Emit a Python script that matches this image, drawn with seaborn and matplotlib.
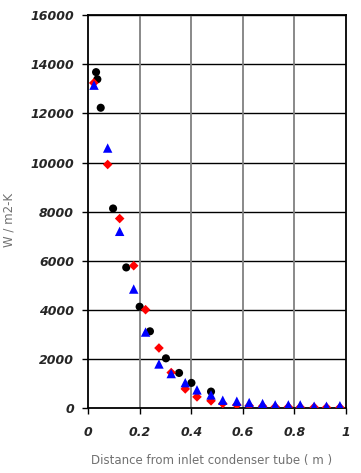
import numpy as np
import pandas as pd
import seaborn as sns
import matplotlib
matplotlib.use("Agg")
import matplotlib.pyplot as plt

# series
x_black = [0.031, 0.036, 0.049, 0.097, 0.148, 0.200, 0.240, 0.302, 0.353, 0.401, 0.477]
y_black = [13680, 13390, 12230, 8130, 5730, 4130, 3130, 2030, 1435, 1030, 676]

x_red = [0.022, 0.076, 0.1225, 0.177, 0.223, 0.275, 0.3225, 0.377, 0.4225, 0.477, 0.5225,
         0.577, 0.625, 0.677, 0.726, 0.777, 0.823, 0.877, 0.925, 0.977]
y_red = [13240, 9920, 7720, 5800, 4010, 2450, 1450, 785, 460, 300, 190,
         135, 100, 80, 55, 50, 40, 40, 30, 30]

x_blue = [0.023, 0.076, 0.1225, 0.177, 0.223, 0.275, 0.3225, 0.377, 0.4225, 0.477, 0.5225,
          0.577, 0.625, 0.677, 0.726, 0.777, 0.823, 0.877, 0.925, 0.977]
y_blue = [13150, 10590, 7200, 4850, 3100, 1800, 1410, 1040, 745, 540, 325,
          285, 230, 190, 135, 135, 135, 80, 80, 100]

x_ticks = [0, 0.2, 0.4, 0.6, 0.8, 1]
x_ticklabels = ["0", "0.2", "0.4", "0.6", "0.8", "1"]
y_ticks = [0, 2000, 4000, 6000, 8000, 10000, 12000, 14000, 16000]

df = pd.concat([
    pd.DataFrame({"x": x_black, "y": y_black, "s": "a"}),
    pd.DataFrame({"x": x_red, "y": y_red, "s": "b"}),
    pd.DataFrame({"x": x_blue, "y": y_blue, "s": "c"}),
])

sns.set_style("white")
plt.rcParams['font.family'] = ['DejaVu Sans']

fig = plt.figure(figsize=(3.61, 4.73), dpi=100)
ax = fig.add_axes([0.244, 0.137, 0.714, 0.831])

palette = {"a": "black", "b": "red", "c": "blue"}
markers = {"a": "o", "b": "D", "c": "^"}
sizes = {"a": 34, "b": 24, "c": 46}
for key in ["a", "b", "c"]:
    sub = df[df.s == key]
    sns.scatterplot(data=sub, x="x", y="y", color=palette[key], marker=markers[key],
                    s=sizes[key], edgecolor="none", ax=ax, legend=False, zorder=3)

ax.set_xlim(0, 1)
ax.set_ylim(0, 16000)
ax.set_xticks(x_ticks)
ax.set_xticklabels(x_ticklabels)
ax.set_yticks(y_ticks)
ax.set_yticklabels([str(v) for v in y_ticks])

for v in y_ticks[1:]:
    ax.axhline(v, color="black", lw=1.0, zorder=1)
for v in x_ticks[1:-1]:
    ax.axvline(v, color="#808080", lw=1.3, zorder=1)

for sp in ax.spines.values():
    sp.set_color("black")
    sp.set_linewidth(1.3)

ax.tick_params(axis="both", direction="out", length=4, width=1, color="black",
               labelsize=9, left=True, bottom=True)
ax.tick_params(axis="y", pad=6)
ax.tick_params(axis="x", pad=9)
for lab in ax.get_xticklabels() + ax.get_yticklabels():
    lab.set_fontstyle("italic")
    lab.set_fontweight("bold")

ax.set_xlabel("Distance from inlet condenser tube ( m )", color="#707070", fontsize=8.5)
ax.set_ylabel("W / m2-K", color="#707070", fontsize=8.5)
ax.xaxis.set_label_coords(0.48, -0.117)
ax.yaxis.set_label_coords(-0.28, 0.48)

fig.savefig("out.png", dpi=100)
